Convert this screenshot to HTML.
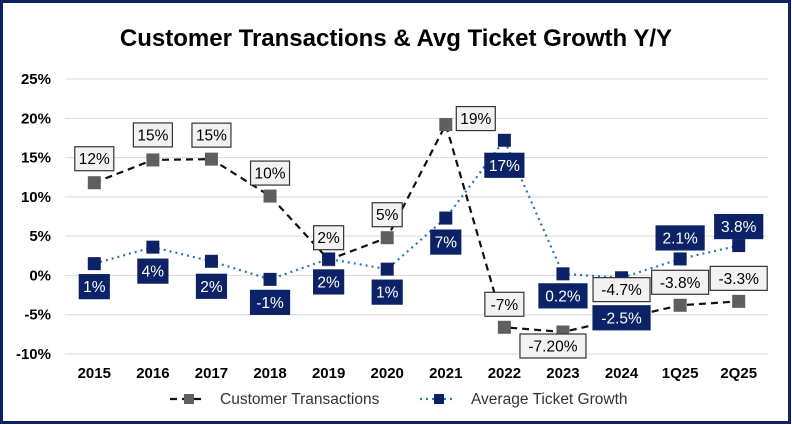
<!DOCTYPE html>
<html><head><meta charset="utf-8"><style>
body{margin:0;background:#fff}
#wrap{position:relative;width:792px;height:425px;overflow:hidden}
svg text{font-family:"Liberation Sans",Arial,sans-serif}
</style></head><body>
<div id="wrap">
<svg id="chart" width="792" height="425">
<rect x="1.5" y="1.5" width="788" height="421" fill="#fff" stroke="#0b2266" stroke-width="3"/>
<text x="396" y="46" text-anchor="middle" font-size="24" font-weight="bold" fill="#000">Customer Transactions &amp; Avg Ticket Growth Y/Y</text>
</svg>
</div>
<script>
const categories=["2015","2016","2017","2018","2019","2020","2021","2022","2023","2024","1Q25","2Q25"];
const transValues=[11.8,14.7,14.8,10.1,2.0,4.8,19.2,-6.6,-7.2,-5.5,-3.8,-3.3];
const transLabels=["12%","15%","15%","10%","2%","5%","19%","-7%","-7.20%","-4.7%","-3.8%","-3.3%"];
const ticketValues=[1.5,3.6,1.8,-0.5,2.1,0.8,7.3,17.2,0.2,-0.3,2.1,3.8];
const ticketLabels=["1%","4%","2%","-1%","2%","1%","7%","17%","0.2%","-2.5%","2.1%","3.8%"];
const yTicks=[25,20,15,10,5,0,-5,-10];
const transOff=[[0,-24],[0,-25],[0,-24],[0,-23],[0,-22],[0,-23],[30,-6],[0,-23],[-10,14],[0,-29],[0,-23],[0,-23]];
const ticketOff=[[0,23],[0,24],[0,25],[0,23],[0,23],[0,23],[0,24],[0,25],[0,22],[0,40],[0,-21],[0,-19]];
const svg=document.getElementById('chart');
const NS='http://www.w3.org/2000/svg';
const x0=65,x1=768,yTop=79,yBot=354,vMax=25,vMin=-10;
const xs=i=>x0+(x1-x0)/categories.length*(i+0.5);
const ys=v=>yTop+(vMax-v)/(vMax-vMin)*(yBot-yTop);
function mk(tag,attrs){const e=document.createElementNS(NS,tag);for(const k in attrs)e.setAttribute(k,attrs[k]);svg.appendChild(e);return e;}
yTicks.forEach(t=>{
 const g=mk('line',{x1:x0,x2:x1,y1:ys(t),y2:ys(t),stroke:'#d9d9d9','stroke-width':1});
 
 
 const l=mk('text',{x:51,y:ys(t)+5,'text-anchor':'end','font-size':15,'font-weight':'bold'});
 l.textContent=t+'%';
 
 
});
categories.forEach((c,i)=>{
 const l=mk('text',{x:xs(i),y:378,'text-anchor':'middle','font-size':15,'font-weight':'bold'});
 l.textContent=c;
 
 
});
function series(vals,color,dash,mcol,name){
 const p=mk('polyline',{points:vals.map((v,i)=>xs(i)+','+ys(v)).join(' '),fill:'none',stroke:color,'stroke-width':2.2,'stroke-dasharray':dash});
 
 
 vals.forEach((v,i)=>{
  const m=mk('rect',{x:xs(i)-6.5,y:ys(v)-6.5,width:13,height:13,fill:mcol});
  
  
 });
}
series(transValues,'#111','7,5','#5f5f5f','transactions');
series(ticketValues,'#2e75b6','2,4','#0b2266','ticket');
function labels(vals,texts,offs,bg,fg,stroke,name){
 vals.forEach((v,i)=>{
  const cx=xs(i)+offs[i][0],cy=ys(v)+offs[i][1];
  const w=texts[i].length*9+12;
  const r=mk('rect',{x:cx-w/2,y:cy-12,width:w,height:24,fill:bg,stroke:stroke,'stroke-width':1.2});
  
  
  const t=mk('text',{x:cx,y:cy+5.5,'text-anchor':'middle','font-size':15.5,fill:fg});
  t.textContent=texts[i];
  
  
 });
}
labels(transValues,transLabels,transOff,'#f2f2f2','#000','#333','transactions');
labels(ticketValues,ticketLabels,ticketOff,'#0b2266','#fff','#0b2266','ticket');
const lg1=mk('line',{x1:170,x2:206,y1:399,y2:399,stroke:'#111','stroke-width':2.2,'stroke-dasharray':'7,5'});


const lm1=mk('rect',{x:184,y:394,width:10,height:10,fill:'#5f5f5f'});


const lt1=mk('text',{x:220,y:404,'font-size':15.5,fill:'#333'});
lt1.textContent='Customer Transactions';


const lg2=mk('line',{x1:420,x2:456,y1:399,y2:399,stroke:'#2e75b6','stroke-width':2.2,'stroke-dasharray':'2,4'});


const lm2=mk('rect',{x:434,y:394,width:10,height:10,fill:'#0b2266'});


const lt2=mk('text',{x:471,y:404,'font-size':15.5,fill:'#333'});
lt2.textContent='Average Ticket Growth';


</script>
</body></html>
